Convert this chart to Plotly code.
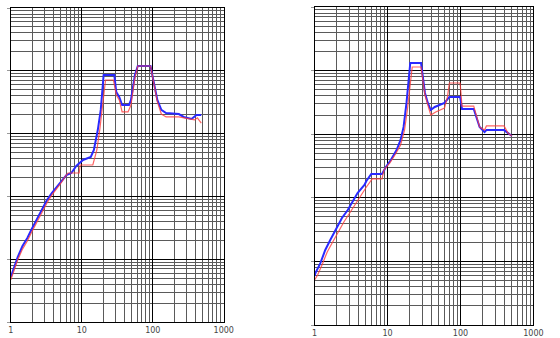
import plotly.graph_objects as go

# ---- data ----
left_blue_x = [1.0, 1.14, 1.25, 1.46, 1.71, 1.94, 2.21, 2.59, 3.23, 3.78, 4.43, 5.20, 6.08, 7.13, 8.36,
               10.4, 13.4, 14.8, 16.8, 18.5, 20.3, 28.7, 30.6, 33.7, 37.0, 46.2, 49.3, 56.0, 61.5, 92.9,
               105, 116, 132, 154, 233, 273, 352, 412, 482]
left_blue_y = [0.52, 0.81, 1.08, 1.62, 2.18, 2.92, 3.91, 5.65, 8.77, 11.3, 14.1, 18.2, 21.9, 23.6, 30.5,
               38.0, 42.4, 54.8, 114, 238, 857, 857, 459, 383, 285, 285, 343, 857, 1192, 1192,
               640, 343, 238, 213, 205, 184, 171, 198, 198]

left_red_x = [1.0, 1.14, 1.25, 1.46, 1.71, 1.94, 2.21, 2.59, 3.23, 3.78, 4.43, 5.20, 5.90, 6.40, 9.19,
              9.48, 14.3, 16.3, 17.9, 19.7, 21.6, 27.9, 30.6, 33.7, 37.0, 44.8, 49.3, 56.0, 61.5, 92.9,
              105, 116, 132, 154, 233, 319, 387, 425, 482]
left_red_y = [0.47, 0.72, 0.97, 1.45, 1.95, 2.61, 3.50, 5.06, 7.85, 10.5, 13.1, 16.9, 21.1, 23.6, 23.6,
              31.6, 31.6, 54.8, 114, 285, 714, 714, 412, 343, 221, 221, 285, 768, 1192, 1192,
              594, 319, 205, 184, 184, 171, 165, 178, 147]

right_blue_x = [1.0, 1.03, 1.20, 1.40, 1.64, 2.03, 2.37, 2.85, 3.33, 3.88, 4.82, 5.13, 5.98, 8.40, 9.50,
                11.1, 13.3, 15.1, 16.6, 18.2, 20.5, 28.8, 32.6, 35.7, 39.2, 44.4, 60.4, 70.5, 98.9,
                105, 152, 183, 214, 227, 396, 448, 507]
right_blue_y = [0.59, 0.66, 0.94, 1.51, 2.17, 3.47, 4.81, 6.43, 8.59, 11.9, 15.9, 18.4, 23.7, 23.7, 30.5,
                39.3, 56.4, 81.1, 130, 310, 1316, 1316, 445, 310, 240, 268, 310, 385, 385,
                249, 249, 130, 108, 116, 116, 104, 93.7]

right_red_x = [1.0, 1.10, 1.28, 1.49, 1.74, 2.16, 2.52, 3.03, 3.54, 4.13, 5.13, 6.17, 8.40, 8.93, 10.7,
               12.9, 15.1, 17.1, 18.7, 21.8, 28.8, 32.6, 35.7, 39.2, 45.8, 60.4, 66.3, 70.5, 98.9,
               105, 152, 183, 214, 227, 396, 448, 507]
right_red_y = [0.51, 0.61, 0.91, 1.41, 1.95, 3.12, 4.16, 5.77, 7.71, 10.3, 14.8, 19.8, 19.8, 27.4, 35.2,
               48.9, 67.6, 116, 240, 1140, 1140, 413, 288, 200, 223, 258, 385, 638, 638,
               277, 277, 130, 116, 135, 135, 104, 93.7]

x_tick_vals = [1, 10, 100, 1000]
x_tick_text = ["1", "10", "100", "1000"]
y_tick_vals = [0.1, 1, 10, 100, 1000, 10000]

BLUE = "#2a2aff"
RED = "#ff3c3c"

fig = go.Figure()
for xs, ys, ax in [(left_blue_x, left_blue_y, ""), (right_blue_x, right_blue_y, "2")]:
    fig.add_trace(go.Scatter(x=xs, y=ys, mode="lines", line=dict(color=BLUE, width=2),
                             xaxis="x" + ax, yaxis="y" + ax, showlegend=False))
for xs, ys, ax in [(left_red_x, left_red_y, ""), (right_red_x, right_red_y, "2")]:
    fig.add_trace(go.Scatter(x=xs, y=ys, mode="lines", line=dict(color=RED, width=1.2),
                             opacity=0.8, xaxis="x" + ax, yaxis="y" + ax, showlegend=False))

W, H = 560, 338

def xaxis_cfg(x0, x1):
    return dict(type="log", range=[0, 3], domain=[x0 / W, x1 / W],
                tickvals=x_tick_vals, ticktext=x_tick_text,
                tickfont=dict(family="DejaVu Sans", size=8, color="#444"),
                ticks="", showgrid=True, gridcolor="#000", gridwidth=1,
                minor=dict(showgrid=True, gridcolor="#5a5a5a", gridwidth=1, dtick="D1"),
                showline=True, linecolor="#000", linewidth=1, mirror=True, zeroline=False)

def yaxis_cfg(y_top, y_bot, anchor):
    return dict(type="log", range=[-1, 4], domain=[1 - y_bot / H, 1 - y_top / H],
                tickvals=y_tick_vals, showticklabels=False,
                ticks="outside", ticklen=3, tickcolor="#999",
                showgrid=True, gridcolor="#000", gridwidth=1,
                minor=dict(showgrid=True, gridcolor="#5a5a5a", gridwidth=1, dtick="D1"),
                showline=True, linecolor="#000", linewidth=1, mirror=True, zeroline=False,
                anchor=anchor)

fig.update_layout(
    width=W, height=H, margin=dict(l=0, r=0, t=0, b=0),
    paper_bgcolor="white", plot_bgcolor="white",
    xaxis=dict(xaxis_cfg(8, 226), anchor="y"),
    yaxis=yaxis_cfg(8, 322, "x"),
    xaxis2=dict(xaxis_cfg(319, 543), anchor="y2"),
    yaxis2=yaxis_cfg(7, 325, "x2"),
)

fig.write_html("out.html", config={"displayModeBar": False},
               post_script="document.body.style.margin='0';document.body.style.overflow='hidden';")
